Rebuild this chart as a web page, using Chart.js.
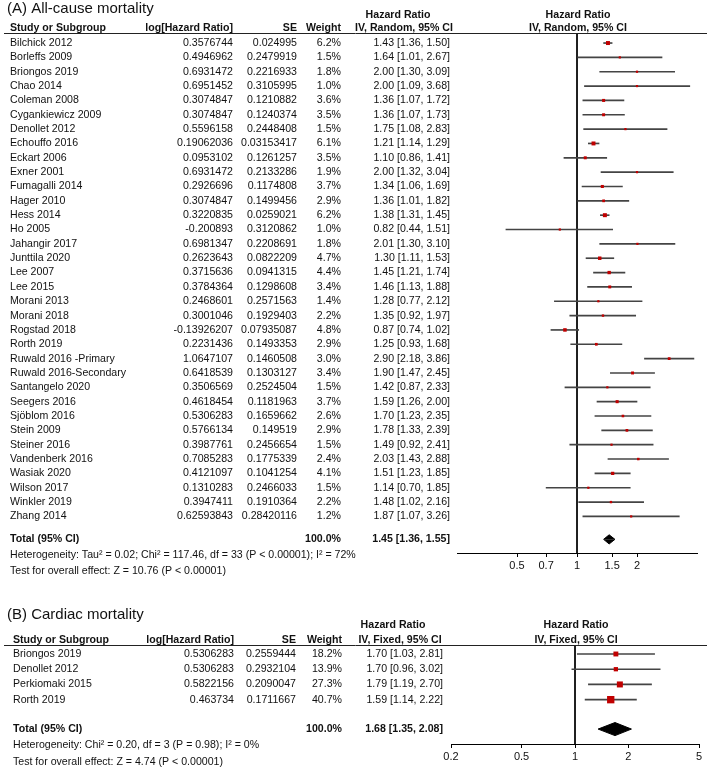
<!DOCTYPE html>
<html>
<head>
<meta charset="utf-8">
<script src="https://cdn.jsdelivr.net/npm/chart.js@4.4.1/dist/chart.umd.min.js"></script>
<style>
  body { margin: 0; background: #fff; }
  #wrap { position: relative; width: 708px; height: 771px; overflow: hidden; }
  canvas { position: absolute; left: 0; }
  #chartA { top: 0; }
  #chartB { top: 580px; }
</style>
</head>
<body>
<div id="wrap">
  <canvas id="chartA" width="708" height="590"></canvas>
  <canvas id="chartB" width="708" height="191"></canvas>
</div>
<script>
// (A) All-cause mortality
var studiesA = ['Bilchick 2012', 'Borleffs 2009', 'Briongos 2019', 'Chao 2014', 'Coleman 2008',
  'Cygankiewicz 2009', 'Denollet 2012', 'Echouffo 2016', 'Eckart 2006', 'Exner 2001',
  'Fumagalli 2014', 'Hager 2010', 'Hess 2014', 'Ho 2005', 'Jahangir 2017', 'Junttila 2020',
  'Lee 2007', 'Lee 2015', 'Morani 2013', 'Morani 2018', 'Rogstad 2018', 'Rorth 2019',
  'Ruwald 2016 -Primary', 'Ruwald 2016-Secondary', 'Santangelo 2020', 'Seegers 2016',
  'Sjöblom 2016', 'Stein 2009', 'Steiner 2016', 'Vandenberk 2016', 'Wasiak 2020',
  'Wilson 2017', 'Winkler 2019', 'Zhang 2014'];
var logHRA = [0.3576744, 0.4946962, 0.6931472, 0.6951452, 0.3074847, 0.3074847, 0.5596158,
  0.19062036, 0.0953102, 0.6931472, 0.2926696, 0.3074847, 0.3220835, -0.200893, 0.6981347,
  0.2623643, 0.3715636, 0.3784364, 0.2468601, 0.3001046, -0.13926207, 0.2231436, 1.0647107,
  0.6418539, 0.3506569, 0.4618454, 0.5306283, 0.5766134, 0.3987761, 0.7085283, 0.4121097,
  0.1310283, 0.3947411, 0.62593843];
var seA = [0.024995, 0.2479919, 0.2216933, 0.3105995, 0.1210882, 0.1240374, 0.2448408,
  0.03153417, 0.1261257, 0.2133286, 0.1174808, 0.1499456, 0.0259021, 0.3120862, 0.2208691,
  0.0822209, 0.0941315, 0.1298608, 0.2571563, 0.1929403, 0.07935087, 0.1493353, 0.1460508,
  0.1303127, 0.2524504, 0.1181963, 0.1659662, 0.149519, 0.2456654, 0.1775339, 0.1041254,
  0.2466033, 0.1910364, 0.28420116];
var weightA = [6.2, 1.5, 1.8, 1.0, 3.6, 3.5, 1.5, 6.1, 3.5, 1.9, 3.7, 2.9, 6.2, 1.0, 1.8, 4.7,
  4.4, 3.4, 1.4, 2.2, 4.8, 2.9, 3.0, 3.4, 1.5, 3.7, 2.6, 2.9, 1.5, 2.4, 4.1, 1.5, 2.2, 1.2];
var hrA = [1.43, 1.64, 2.00, 2.00, 1.36, 1.36, 1.75, 1.21, 1.10, 2.00, 1.34, 1.36, 1.38, 0.82,
  2.01, 1.30, 1.45, 1.46, 1.28, 1.35, 0.87, 1.25, 2.90, 1.90, 1.42, 1.59, 1.70, 1.78, 1.49,
  2.03, 1.51, 1.14, 1.48, 1.87];
var loA = [1.36, 1.01, 1.30, 1.09, 1.07, 1.07, 1.08, 1.14, 0.86, 1.32, 1.06, 1.01, 1.31, 0.44,
  1.30, 1.11, 1.21, 1.13, 0.77, 0.92, 0.74, 0.93, 2.18, 1.47, 0.87, 1.26, 1.23, 1.33, 0.92,
  1.43, 1.23, 0.70, 1.02, 1.07];
var hiA = [1.50, 2.67, 3.09, 3.68, 1.72, 1.73, 2.83, 1.29, 1.41, 3.04, 1.69, 1.82, 1.45, 1.51,
  3.10, 1.53, 1.74, 1.88, 2.12, 1.97, 1.02, 1.68, 3.86, 2.45, 2.33, 2.00, 2.35, 2.39, 2.41,
  2.88, 1.85, 1.85, 2.16, 3.26];
var totalA = [1.45, 1.36, 1.55];
var ticksA = [0.5, 0.7, 1, 1.5, 2];

// (B) Cardiac mortality
var studiesB = ['Briongos 2019', 'Denollet 2012', 'Perkiomaki 2015', 'Rorth 2019'];
var logHRB = [0.5306283, 0.5306283, 0.5822156, 0.463734];
var seB = [0.2559444, 0.2932104, 0.2090047, 0.1711667];
var weightB = [18.2, 13.9, 27.3, 40.7];
var hrB = [1.70, 1.70, 1.79, 1.59];
var loB = [1.03, 0.96, 1.19, 1.14];
var hiB = [2.81, 3.02, 2.70, 2.22];
var totalB = [1.68, 1.35, 2.08];
var ticksB = [0.2, 0.5, 1, 2, 5];

var FONT = '"Liberation Sans", Arial, Helvetica, sans-serif';
var INK = '#111';

function fmt(v) { return v.toFixed(2); }

function tablePlugin(t) {
  return {
    id: 'forestTable',
    afterDraw: function(chart) {
      var ctx = chart.ctx;
      var ys = chart.scales.y;
      var top = Math.round(chart.chartArea.top) + 0.5;
      var c = t.cols;
      ctx.save();
      ctx.fillStyle = INK;
      ctx.textBaseline = 'middle';
      function txt(s, x, y, align, bold, size) {
        ctx.font = (bold ? 'bold ' : '') + (size || 10.6) + 'px ' + FONT;
        ctx.textAlign = align;
        ctx.fillText(s, x, y);
      }
      // title + headers
      txt(t.title, 7, t.titleY, 'left', false, 15);
      txt('Hazard Ratio', c.ciHead1, t.head1Y, 'center', true);
      txt('Hazard Ratio', c.plotHead, t.head1Y, 'center', true);
      txt('Study or Subgroup', c.name, t.head2Y, 'left', true);
      txt('log[Hazard Ratio]', c.log, t.head2Y, 'right', true);
      txt('SE', c.se, t.head2Y, 'right', true);
      txt('Weight', c.wt, t.head2Y, 'right', true);
      txt(t.method, c.ciHead2, t.head2Y, 'center', true);
      txt(t.method, c.plotHead, t.head2Y, 'center', true);
      ctx.strokeStyle = '#222';
      ctx.lineWidth = 1;
      ctx.beginPath();
      ctx.moveTo(4, top);
      ctx.lineTo(707, top);
      ctx.stroke();

      // study rows
      for (var i = 0; i < t.studies.length; i++) {
        var y = ys.getPixelForValue(i + 1);
        txt(t.studies[i], c.name, y, 'left');
        txt(String(t.logHR[i]), c.log, y, 'right');
        txt(String(t.se[i]), c.se, y, 'right');
        txt(t.weight[i].toFixed(1) + '%', c.wt, y, 'right');
        txt(fmt(t.hr[i]) + ' [' + fmt(t.lo[i]) + ', ' + fmt(t.hi[i]) + ']', c.ci, y, 'right');
      }

      // total + footnotes
      var ty = ys.getPixelForValue(t.totalRow);
      txt('Total (95% CI)', c.name, ty, 'left', true);
      txt('100.0%', c.wt, ty, 'right', true);
      txt(fmt(t.total[0]) + ' [' + fmt(t.total[1]) + ', ' + fmt(t.total[2]) + ']', c.ci, ty, 'right', true);
      txt(t.het, c.name, ty + t.hetDy, 'left');
      txt(t.overall, c.name, ty + t.testDy, 'left');
      ctx.restore();
    }
  };
}

function forestChart(id, t) {
  var ciData = [], boxData = [], boxRadius = [];
  for (var i = 0; i < t.studies.length; i++) {
    ciData.push({ y: i + 1, x: [t.lo[i], t.hi[i]] });
    boxData.push({ x: t.hr[i], y: i + 1 });
    var side = Math.max(2.2, t.boxScale * Math.sqrt(t.weight[i]));
    boxRadius.push(side / Math.SQRT2);
  }
  var ty = t.totalRow, dh = t.diamondH;

  return new Chart(document.getElementById(id), {
    type: 'scatter',
    data: {
      datasets: [
        {
          // 95% CI whiskers
          type: 'bar', indexAxis: 'y', data: ciData, order: 3,
          backgroundColor: '#444', borderWidth: 0, barThickness: 1
        },
        {
          // line of no effect
          type: 'line', data: [{ x: 1, y: t.yMin }, { x: 1, y: t.yMax }], order: 4,
          borderColor: '#000', borderWidth: 1, pointRadius: 0
        },
        {
          type: 'scatter', data: boxData, pointStyle: 'rect', order: 1,
          pointRadius: boxRadius, backgroundColor: '#c00000', borderWidth: 0, pointBorderWidth: 0
        },
        {
          type: 'line', order: 2,
          data: [{ x: t.total[1], y: ty }, { x: t.total[0], y: ty - dh }, { x: t.total[2], y: ty }],
          fill: { value: ty }, backgroundColor: '#000', borderColor: '#000', borderWidth: 1, pointRadius: 0
        },
        {
          type: 'line', order: 2,
          data: [{ x: t.total[1], y: ty }, { x: t.total[0], y: ty + dh }, { x: t.total[2], y: ty }],
          fill: { value: ty }, backgroundColor: '#000', borderColor: '#000', borderWidth: 1, pointRadius: 0
        }
      ]
    },
    options: {
      responsive: false,
      animation: false,
      events: [],
      layout: { padding: { left: t.left, right: t.right, top: t.top, bottom: 0 } },
      plugins: { legend: { display: false }, tooltip: { enabled: false } },
      scales: {
        x: {
          type: 'logarithmic', min: t.xMin, max: t.xMax, bounds: 'data', offset: false,
          afterBuildTicks: function(s) { s.ticks = t.ticks.map(function(v) { return { value: v }; }); },
          afterFit: function(s) { s.height = t.axisH; },
          ticks: {
            callback: function(v) { return String(v); },
            font: { family: FONT, size: 11 }, color: INK, padding: 2,
            maxRotation: 0, autoSkip: false
          },
          grid: { display: true, offset: false, drawOnChartArea: false, drawTicks: true, tickLength: 4, color: '#000', lineWidth: 1 },
          border: { display: true, color: '#000', width: 1 }
        },
        y: {
          type: 'linear', reverse: true, min: t.yMin, max: t.yMax, offset: false,
          grid: { offset: false }, display: false
        }
      }
    },
    plugins: [tablePlugin(t)]
  });
}

forestChart('chartA', {
  title: '(A) All-cause mortality', method: 'IV, Random, 95% CI',
  studies: studiesA, logHR: logHRA, se: seA, weight: weightA, hr: hrA, lo: loA, hi: hiA,
  total: totalA, ticks: ticksA, xMin: 0.25, xMax: 4,
  yMin: 0.3, yMax: 36.55, totalRow: 35.6, diamondH: 0.32, boxScale: 1.6,
  left: 457, right: 11, top: 33, axisH: 37,
  titleY: 9, head1Y: 15, head2Y: 28,
  cols: { name: 10, log: 233, se: 297, wt: 341, ci: 450, ciHead1: 398, ciHead2: 404, plotHead: 578 },
  het: 'Heterogeneity: Tau² = 0.02; Chi² = 117.46, df = 33 (P < 0.00001); I² = 72%',
  overall: 'Test for overall effect: Z = 10.76 (P < 0.00001)',
  hetDy: 16, testDy: 32
});

forestChart('chartB', {
  title: '(B) Cardiac mortality', method: 'IV, Fixed, 95% CI',
  studies: studiesB, logHR: logHRB, se: seB, weight: weightB, hr: hrB, lo: loB, hi: hiB,
  total: totalB, ticks: ticksB, xMin: 0.2, xMax: 5,
  yMin: 0.41, yMax: 6.91, totalRow: 5.93, diamondH: 0.43, boxScale: 1.15,
  left: 451, right: 9, top: 65, axisH: 27,
  titleY: 35, head1Y: 45, head2Y: 60,
  cols: { name: 13, log: 234, se: 296, wt: 342, ci: 443, ciHead1: 393, ciHead2: 400, plotHead: 576 },
  het: 'Heterogeneity: Chi² = 0.20, df = 3 (P = 0.98); I² = 0%',
  overall: 'Test for overall effect: Z = 4.74 (P < 0.00001)',
  hetDy: 16, testDy: 33
});
</script>
</body>
</html>
